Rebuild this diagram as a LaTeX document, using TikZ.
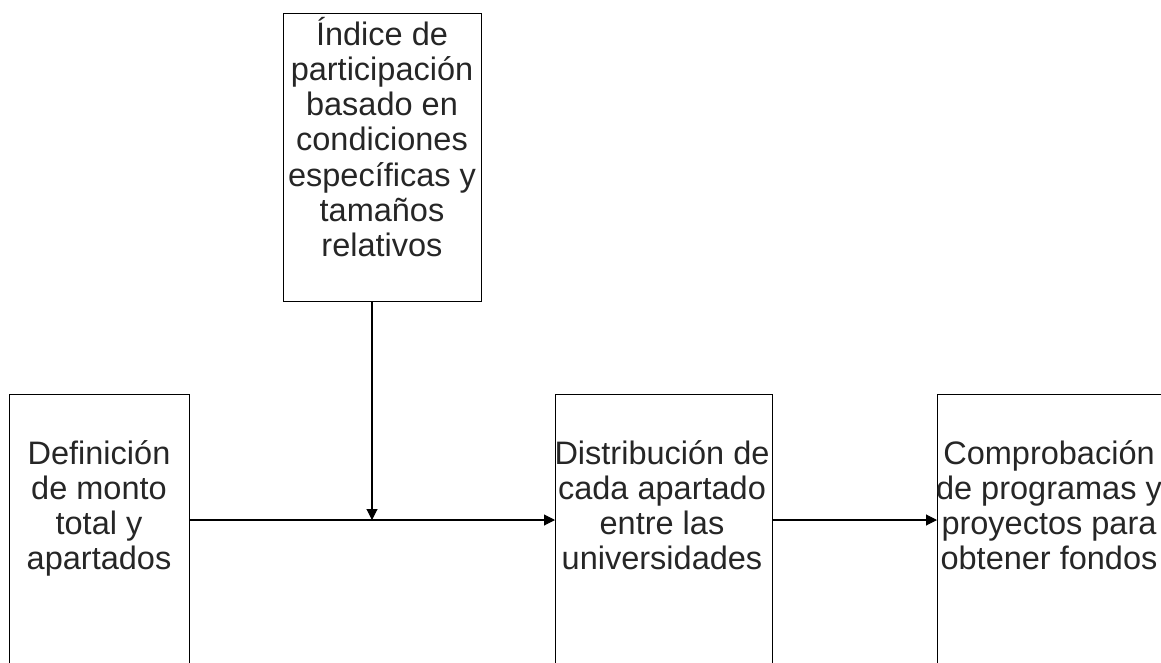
\documentclass[tikz,border=0pt]{standalone}
\usepackage{fontspec}
\setmainfont{Liberation Sans}
\usetikzlibrary{arrows.meta}
\tikzstyle{bx}=[rectangle,draw=black,line width=0.6pt,inner sep=0pt,anchor=north west]
\tikzstyle{txt}=[align=center,inner sep=0pt,anchor=north,text=black!85,font=\fontsize{18.5}{20}\selectfont]
\tikzstyle{arr}=[line width=0.6pt,-{Triangle[length=2.2mm,width=2.2mm]}]

\begin{document}
\begin{tikzpicture}[x=0.02cm,y=-0.02cm]
\useasboundingbox (0,0) rectangle (1161,663);
\clip (0,0) rectangle (1161,663);
\node[bx,minimum width=3.96cm,minimum height=5.76cm] (ind) at (283,13) {};
\node[bx,minimum width=3.6cm,minimum height=6.2cm] (def) at (9,394) {};
\node[bx,minimum width=4.34cm,minimum height=6.2cm] (dist) at (555,394) {};
\node[bx,minimum width=5.4cm,minimum height=6.2cm] (comp) at (937,394) {};
\node[txt] (indt) at (382,17) {Índice de\\participación\\basado en\\condiciones\\específicas y\\tamaños\\relativos};
\node[txt] (deft) at (99,440) {Definición\\de monto\\total y\\apartados};
\node[txt] (distt) at (662,440) {Distribución de\\cada apartado\\entre las\\universidades};
\node[txt] (compt) at (1049,440) {Comprobación\\de programas y\\proyectos para\\obtener fondos};
\coordinate (j) at (372,520);
\draw[arr] (def.east |- j) -- (dist.west |- j);
\draw[arr] (ind.south -| j) -- (j);
\draw[arr] (dist.east |- j) -- (comp.west |- j);
\end{tikzpicture}
\end{document}
